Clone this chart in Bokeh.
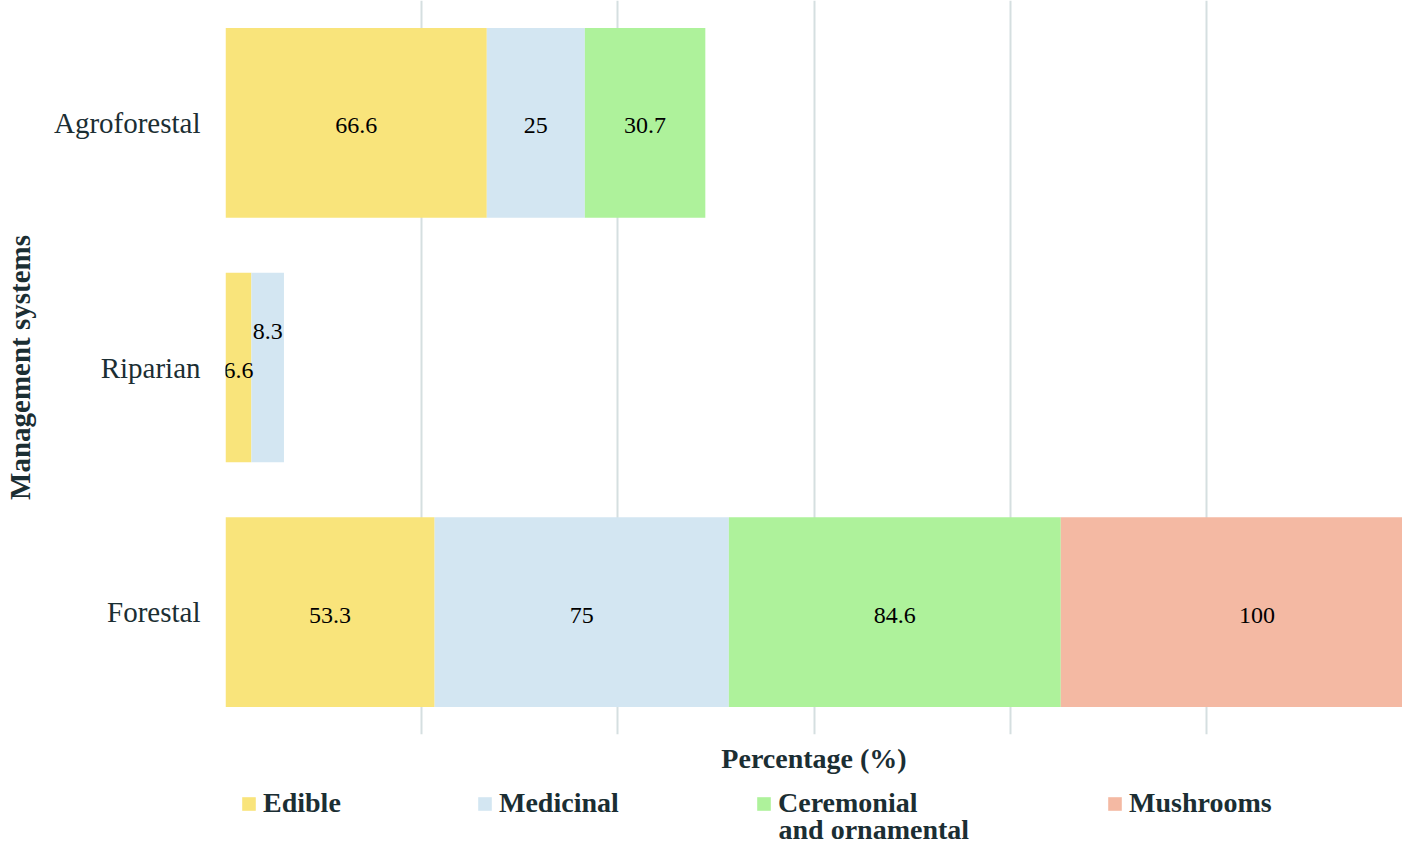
from bokeh.plotting import figure
from bokeh.models import (FactorRange, Range1d, ColumnDataSource, Legend, LegendItem,
                          FixedTicker, Label)
from bokeh.layouts import column
from bokeh.core.properties import value
from bokeh.embed import file_html
from bokeh.resources import INLINE

# ---- data ----
systems = ["Forestal", "Riparian", "Agroforestal"]
uses = ["Edible", "Medicinal", "Ceremonial", "Mushrooms"]
use_labels = ["Edible", "Medicinal", "Ceremonial\nand ornamental", "Mushrooms"]
edible = [53.3, 6.6, 66.6]
medicinal = [75.0, 8.3, 25.0]
ceremonial = [84.6, 0.0, 30.7]
mushrooms = [100.0, 0.0, 0.0]
x_ticks = [0, 50, 100, 150, 200, 250, 300]

# ---- style / layout ----
colors = ["#F9E47B", "#D3E6F2", "#AEF29B", "#F4B9A3"]
TXT = "#1b2e33"
FONT = "Liberation Serif"
W = 1402
H_MAIN = 780
H_LEG = 65
FRAME_LEFT = 225
legend_x = [240, 476, 755, 1106]   # page px of each legend swatch
legend_y = 26                      # px from bottom of legend strip
line2_y = 16

src = ColumnDataSource(dict(system=systems, Edible=edible, Medicinal=medicinal,
                            Ceremonial=ceremonial, Mushrooms=mushrooms))

p = figure(width=W, height=H_MAIN, y_range=FactorRange(*systems),
           x_range=Range1d(x_ticks[0], x_ticks[-1]),
           output_backend="svg", toolbar_location=None,
           min_border_top=0, min_border_right=0, min_border_left=FRAME_LEFT,
           min_border_bottom=46)
p.outline_line_color = None

p.hbar_stack(uses, y="system", height=0.775, color=colors, line_color=None, source=src)

# data labels
lx, ly, lt, loff = [], [], [], []
series = [edible, medicinal, ceremonial, mushrooms]
for i, s in enumerate(systems):
    cum = 0.0
    for k, vals in enumerate(series):
        v = vals[i]
        if v > 0:
            lx.append(cum + v / 2)
            ly.append(s)
            lt.append(f"{v:g}")
            loff.append(-36 if (s == "Riparian" and k == 1) else 3)
        cum += v
p.text(x="x", y="y", text="t", y_offset="o",
       source=ColumnDataSource(dict(x=lx, y=ly, t=lt, o=loff)),
       text_align="center", text_baseline="middle",
       text_font=value(FONT), text_font_size="24px", text_color="#000000")

# grid & axes (x axis shows no tick labels, only its title)
p.xaxis.ticker = FixedTicker(ticks=[])
p.xgrid.ticker = FixedTicker(ticks=x_ticks)
p.xgrid.grid_line_color = "#d5dfe0"
p.xgrid.grid_line_width = 2
p.ygrid.grid_line_color = None

p.xaxis.axis_line_color = None
p.xaxis.major_tick_line_color = None
p.xaxis.minor_tick_line_color = None
p.xaxis.axis_label = "Percentage (%)"
p.xaxis.axis_label_text_font = FONT
p.xaxis.axis_label_text_font_style = "bold"
p.xaxis.axis_label_text_font_size = "28px"
p.xaxis.axis_label_text_color = TXT
p.xaxis.axis_label_standoff = 8

p.yaxis.axis_line_color = None
p.yaxis.major_tick_line_color = None
p.yaxis.minor_tick_line_color = None
p.yaxis.major_label_text_font = FONT
p.yaxis.major_label_text_font_size = "29px"
p.yaxis.major_label_text_color = TXT
p.yaxis.major_label_standoff = 19
p.yaxis.axis_label = "Management systems"
p.yaxis.axis_label_text_font = FONT
p.yaxis.axis_label_text_font_style = "bold"
p.yaxis.axis_label_text_font_size = "29px"
p.yaxis.axis_label_text_color = TXT
p.yaxis.axis_label_standoff = 15

# ---- legend strip (frame aligned with the main frame by the column) ----
p2 = figure(width=W, height=H_LEG, y_range=FactorRange("legend"),
            x_range=Range1d(x_ticks[0], x_ticks[-1]), output_backend="svg",
            toolbar_location=None, x_axis_location=None, y_axis_location=None,
            min_border=0)
p2.outline_line_color = None
p2.grid.visible = False
# legend-only renderers: their factors are not in this strip's range, so no bars show
leg_renderers = p2.hbar_stack(uses, y="system", height=0.775, color=colors,
                              line_color=None, source=src)

for lab, r, lxp in zip(use_labels, leg_renderers, legend_x):
    lines = lab.split("\n")
    lg = Legend(items=[LegendItem(label=lines[0], renderers=[r])],
                location=(lxp - FRAME_LEFT, legend_y), orientation="horizontal",
                label_text_font=FONT, label_text_font_style="bold",
                label_text_font_size="28px", label_text_color=TXT,
                glyph_width=17, glyph_height=17, label_standoff=6,
                border_line_color=None, background_fill_alpha=0,
                padding=0, margin=0)
    p2.add_layout(lg, "center")
    for j, extra in enumerate(lines[1:]):
        p2.add_layout(Label(x=lxp - FRAME_LEFT + 23, y=line2_y - 30 * j,
                            x_units="screen", y_units="screen",
                            text=extra, text_font=FONT, text_font_style="bold",
                            text_font_size="28px", text_color=TXT,
                            text_baseline="middle"))

open("out.html", "w").write(file_html(column(p, p2), INLINE))
